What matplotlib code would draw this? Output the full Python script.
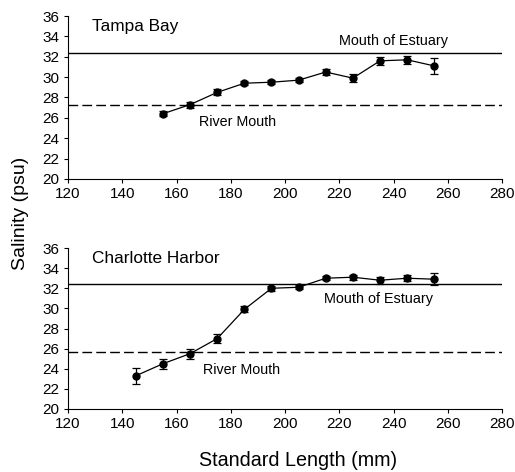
import matplotlib
matplotlib.use("Agg")
import matplotlib.pyplot as plt

# Tampa Bay
tb_length = [155, 165, 175, 185, 195, 205, 215, 225, 235, 245, 255]
tb_salinity = [26.4, 27.3, 28.5, 29.4, 29.5, 29.7, 30.5, 29.9, 31.6, 31.7, 31.1]
tb_err = [0.25, 0.3, 0.3, 0.2, 0.2, 0.2, 0.3, 0.4, 0.4, 0.4, 0.8]
tb_estuary = 32.35
tb_river = 27.3

# Charlotte Harbor
ch_length = [145, 155, 165, 175, 185, 195, 205, 215, 225, 235, 245, 255]
ch_salinity = [23.3, 24.5, 25.5, 27.0, 29.9, 32.0, 32.1, 33.0, 33.1, 32.8, 33.0, 32.9]
ch_err = [0.8, 0.5, 0.5, 0.45, 0.3, 0.25, 0.2, 0.2, 0.25, 0.35, 0.3, 0.6]
ch_estuary = 32.4
ch_river = 25.7

plt.rcParams['font.family'] = ['Liberation Sans', 'DejaVu Sans']

fig = plt.figure(figsize=(5.15, 4.72), dpi=100)
ax1 = fig.add_axes([0.132, 0.621, 0.843, 0.345])
ax2 = fig.add_axes([0.132, 0.1335, 0.843, 0.341])


def panel(ax, x, y, err, estuary, river, title, est_pos, riv_pos):
    ax.axhline(estuary, color='black', lw=1.0)
    ax.axhline(river, color='black', lw=1.0, ls=(0, (7, 3)))
    ax.errorbar(x, y, yerr=err, color='black', marker='o', ms=5, lw=0.9,
                elinewidth=0.9, capsize=3, capthick=0.9)
    ax.set_xlim(120, 280)
    ax.set_ylim(20, 36)
    ax.set_xticks(range(120, 281, 20))
    ax.set_yticks(range(20, 37, 2))
    ax.spines['top'].set_visible(False)
    ax.spines['right'].set_visible(False)
    ax.tick_params(labelsize=11, length=3, direction='out', pad=3)
    ax.text(128.8, 35.0, title, fontsize=12.4, va='center', ha='left')
    ax.text(est_pos[0], est_pos[1], 'Mouth of Estuary', fontsize=10.4, ha='center', va='center')
    ax.text(riv_pos[0], riv_pos[1], 'River Mouth', fontsize=10.3, ha='left', va='center')


panel(ax1, tb_length, tb_salinity, tb_err, tb_estuary, tb_river,
      'Tampa Bay', (239.8, 33.5), (168.3, 25.6))
panel(ax2, ch_length, ch_salinity, ch_err, ch_estuary, ch_river,
      'Charlotte Harbor', (234.5, 30.9), (169.8, 23.9))

fig.text(0.039, 0.547, 'Salinity (psu)', rotation=90, ha='center', va='center', fontsize=14)
fig.text(0.578, 0.025, 'Standard Length (mm)', ha='center', va='center', fontsize=14.2)

fig.savefig('out.png', dpi=100)
